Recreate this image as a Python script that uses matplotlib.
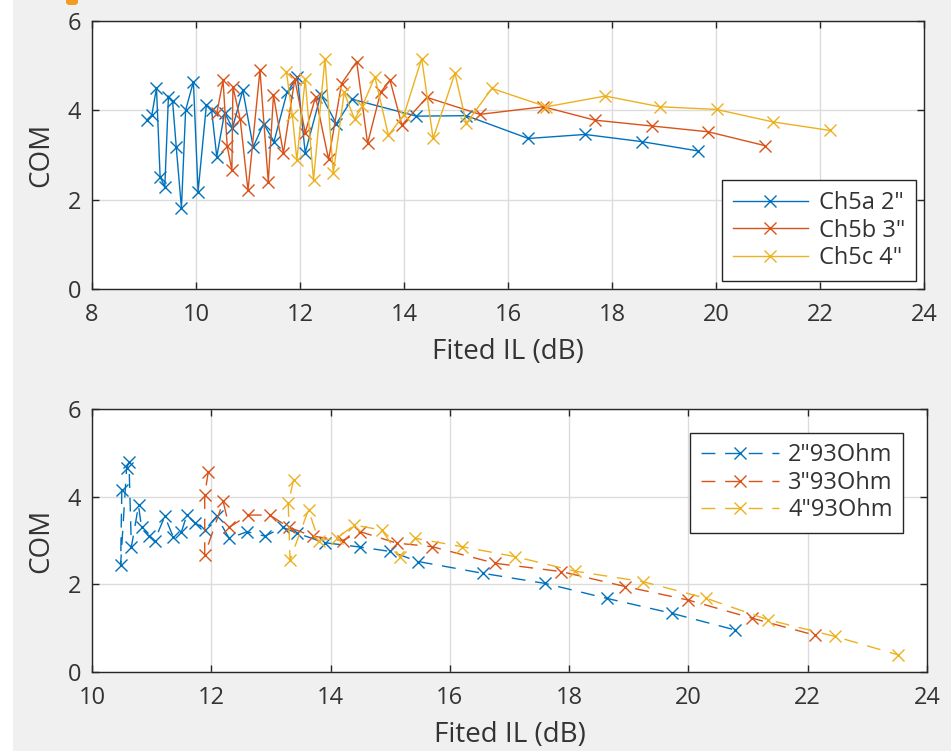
import matplotlib
matplotlib.use("Agg")
import matplotlib.pyplot as plt
from matplotlib.patches import Rectangle, FancyBboxPatch

# ---------------- data (top panel) ----------------
top_labels = ['Ch5a 2"', 'Ch5b 3"', 'Ch5c 4"']
ch5a_x = [9.05, 9.15, 9.24, 9.31, 9.40, 9.47, 9.55, 9.62, 9.72, 9.80, 9.95, 10.04,
          10.20, 10.30, 10.40, 10.55, 10.70, 10.90, 11.10, 11.30, 11.50, 11.75,
          11.95, 12.10, 12.40, 12.70, 13.00, 14.24, 15.20, 16.39, 17.48, 18.57, 19.66]
ch5a_y = [3.78, 3.89, 4.50, 2.51, 2.29, 4.30, 4.20, 3.18, 1.81, 4.00, 4.64, 2.18,
          4.12, 4.00, 2.96, 3.95, 3.60, 4.45, 3.18, 3.70, 3.30, 4.40,
          4.75, 3.05, 4.35, 3.70, 4.25, 3.87, 3.88, 3.37, 3.46, 3.30, 3.09]
ch5b_x = [10.40, 10.52, 10.60, 10.69, 10.71, 10.85, 11.00, 11.23, 11.39, 11.49,
          11.68, 11.90, 12.10, 12.30, 12.55, 12.80, 13.09, 13.30, 13.55, 13.73,
          13.96, 14.44, 15.46, 16.68, 17.67, 18.76, 19.85, 20.94]
ch5b_y = [3.93, 4.67, 3.20, 2.66, 4.53, 3.80, 2.21, 4.90, 2.40, 4.34,
          3.04, 4.70, 3.50, 4.30, 2.90, 4.60, 5.09, 3.26, 4.40, 4.68,
          3.67, 4.29, 3.91, 4.08, 3.78, 3.65, 3.52, 3.21]
ch5c_x = [11.74, 11.85, 11.94, 12.10, 12.26, 12.48, 12.64, 12.85, 13.05, 13.20,
          13.44, 13.70, 14.00, 14.34, 14.56, 14.98, 15.20, 15.69, 16.74, 17.87,
          18.92, 20.01, 21.10, 22.19]
ch5c_y = [4.86, 3.90, 2.89, 4.70, 2.44, 5.16, 2.59, 4.40, 3.80, 4.10,
          4.75, 3.44, 3.90, 5.16, 3.37, 4.83, 3.71, 4.49, 4.08, 4.32,
          4.08, 4.02, 3.74, 3.55]

# ---------------- data (bottom panel) ----------------
bot_labels = ['2"93Ohm', '3"93Ohm', '4"93Ohm']
o2_x = [10.50, 10.48, 10.58, 10.62, 10.66, 10.78, 10.83, 10.95, 11.05, 11.22,
        11.36, 11.50, 11.59, 11.73, 11.90, 12.09, 12.30, 12.60, 12.90, 13.20,
        13.43, 13.90, 14.50, 15.00, 15.47, 16.56, 17.60, 18.63, 19.72, 20.78]
o2_y = [4.15, 2.45, 4.65, 4.78, 2.85, 3.80, 3.30, 3.10, 3.00, 3.55,
        3.09, 3.20, 3.58, 3.40, 3.25, 3.55, 3.05, 3.20, 3.10, 3.30,
        3.17, 2.95, 2.85, 2.75, 2.52, 2.25, 2.02, 1.68, 1.34, 0.96]
o3_x = [11.95, 11.89, 11.89, 12.20, 12.30, 12.62, 12.98, 13.30, 13.70, 14.20,
        14.50, 15.11, 15.70, 16.76, 17.87, 18.94, 20.00, 21.06, 22.12]
o3_y = [4.57, 4.04, 2.67, 3.89, 3.30, 3.58, 3.58, 3.30, 3.10, 3.00,
        3.20, 2.94, 2.86, 2.48, 2.29, 1.95, 1.64, 1.23, 0.84]
o4_x = [13.38, 13.29, 13.32, 13.63, 13.80, 14.10, 14.40, 14.86, 15.16, 15.42,
        16.20, 17.10, 18.10, 19.24, 20.30, 21.34, 22.46, 23.52]
o4_y = [4.38, 3.85, 2.56, 3.70, 3.00, 3.05, 3.35, 3.24, 2.63, 3.05,
        2.86, 2.63, 2.30, 2.06, 1.68, 1.19, 0.81, 0.39]

colors = ['#0072BD', '#D95319', '#EDB120']
xlabel = 'Fited IL (dB)'
ylabel = 'COM'

plt.rcParams['font.family'] = ['Open Sans', 'DejaVu Sans']
TFS = 17.0   # tick labels
LFS = 20.0   # axis labels
GFS = 17.0   # legend
TXT = '#333333'
W, H = 951, 751
fig = plt.figure(figsize=(W / 100, H / 100), dpi=100)
fig.patch.set_facecolor('#f0f0f0')

# screenshot artifacts
fig.patches.append(Rectangle((0, 0), 13 / W, 1, transform=fig.transFigure,
                             facecolor='white', edgecolor='none', zorder=0))
fig.patches.append(FancyBboxPatch((66 / W, 1 - 5 / H), 12 / W, 8 / H,
                                  boxstyle='round,pad=0,rounding_size=0.004',
                                  transform=fig.transFigure,
                                  facecolor='#f39c1f', edgecolor='none', zorder=1))

def style(ax, xlim, xticks):
    ax.set_facecolor('white')
    ax.set_xlim(*xlim)
    ax.set_ylim(0, 6)
    ax.set_xticks(xticks)
    ax.set_yticks([0, 2, 4, 6])
    ax.grid(True, color='#dcdcdc', linewidth=1.0)
    ax.set_axisbelow(True)
    ax.tick_params(direction='in', length=5, width=1.0, top=True, right=True,
                   labelsize=TFS, colors='#262626', labelcolor=TXT)
    ax.tick_params(axis='x', pad=10)
    ax.tick_params(axis='y', pad=8)
    for s in ax.spines.values():
        s.set_color('#262626')
        s.set_linewidth(1.0)
    ax.set_xlabel(xlabel, fontsize=LFS, color=TXT, labelpad=8)
    ax.set_ylabel(ylabel, fontsize=LFS, color=TXT, labelpad=9)

ax1 = fig.add_axes([92 / W, 1 - 289 / H, (924 - 92) / W, (289 - 21) / H])
for xs, ys, c, lab in zip([ch5a_x, ch5b_x, ch5c_x], [ch5a_y, ch5b_y, ch5c_y], colors, top_labels):
    ax1.plot(xs, ys, '-', color=c, marker='x', markersize=9, markeredgewidth=1.0,
             linewidth=1.0, label=lab)
style(ax1, (8, 24), list(range(8, 25, 2)))
leg1 = ax1.legend(loc='lower right', fontsize=GFS, frameon=True, fancybox=False,
                  edgecolor='#262626', framealpha=1, handlelength=3.2,
                  borderaxespad=0.35, labelspacing=0.15, handletextpad=0.45,
                  borderpad=0.45)
leg1.get_frame().set_linewidth(1.0)
for t in leg1.get_texts():
    t.set_color(TXT)

ax2 = fig.add_axes([92 / W, 1 - 672 / H, (927 - 92) / W, (672 - 409) / H])
for xs, ys, c, lab in zip([o2_x, o3_x, o4_x], [o2_y, o3_y, o4_y], colors, bot_labels):
    ax2.plot(xs, ys, '--', color=c, marker='x', markersize=9, markeredgewidth=1.0,
             linewidth=1.0, dashes=(10, 7), label=lab)
style(ax2, (10, 24), list(range(10, 25, 2)))
leg2 = ax2.legend(loc='upper right', fontsize=GFS, frameon=True, fancybox=False,
                  edgecolor='#262626', framealpha=1, handlelength=3.3,
                  borderaxespad=1.0, labelspacing=0.15, handletextpad=0.4,
                  borderpad=0.45)
leg2.get_frame().set_linewidth(1.0)
for t in leg2.get_texts():
    t.set_color(TXT)

fig.savefig('out.png', dpi=100, facecolor=fig.get_facecolor())
